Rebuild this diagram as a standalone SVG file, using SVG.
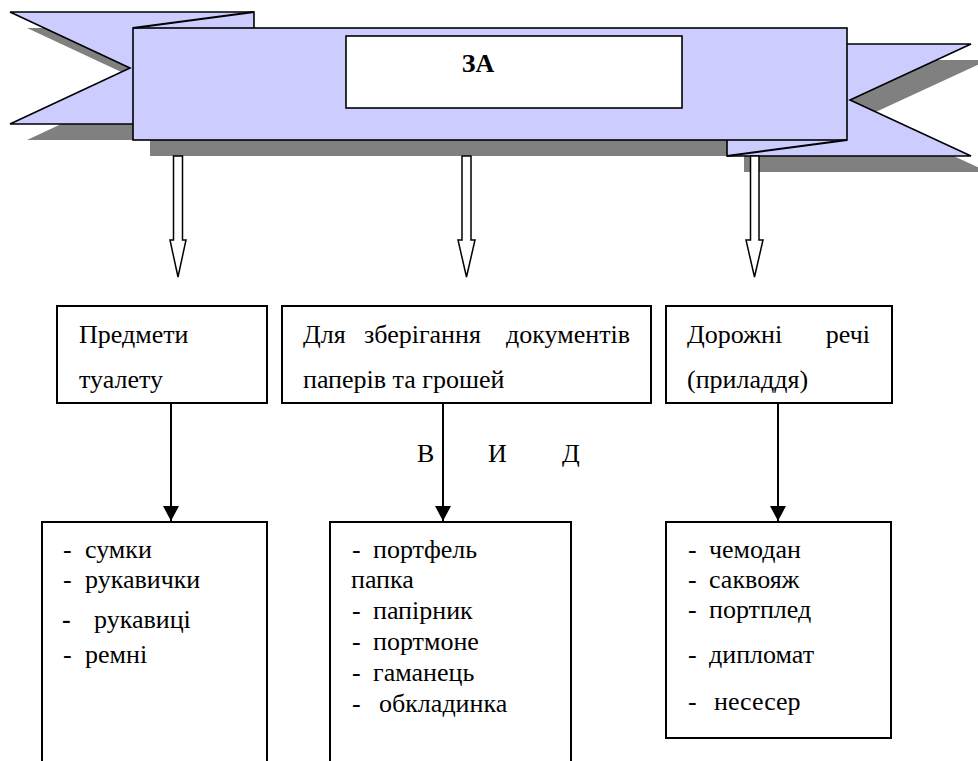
<svg xmlns="http://www.w3.org/2000/svg" width="978" height="761" viewBox="0 0 978 761" font-family="Liberation Serif, DejaVu Serif, serif" font-size="26">
<defs>
<style>
.box{fill:#fff;stroke:#000;stroke-width:2}
.sh{fill:#808080;stroke:none}
.rib{fill:#ccccff;stroke:#000;stroke-width:1.6;stroke-linejoin:miter}
.blk{fill:#fff;stroke:#000;stroke-width:1.5}
.ln{stroke:#000;stroke-width:2;fill:none}
</style>
<marker id="ah" markerUnits="userSpaceOnUse" markerWidth="16" markerHeight="16" refX="15" refY="8" orient="auto">
<path d="M0,0 L15,8 L0,16 Z" fill="#000"/>
</marker>
</defs>
<rect width="978" height="761" fill="#fff"/>
<g id="banner">
<polygon class="sh" points="27,28 271,28 271,140 27,140 147,84"/>
<rect class="sh" x="150" y="44" width="714" height="112"/>
<polygon class="sh" points="744,60 988,60 867,116 988,172 744,172"/>
<polygon class="rib" points="10,12 254,12 254,124 10,124 130,68"/>
<polygon class="rib" points="727,44 971,44 850,100 971,156 727,156"/>
<rect class="rib" x="133" y="28" width="714" height="112"/>
<line class="ln" x1="254" y1="12" x2="133" y2="28" stroke-width="1.6"/>
<line class="ln" x1="727" y1="156" x2="847" y2="140" stroke-width="1.6"/>
<rect x="346" y="36" width="336" height="72" fill="#fff" stroke="#000" stroke-width="1.6"/>
<text x="478" y="72" text-anchor="middle" font-weight="bold">ЗА</text>
</g>
<g id="block-arrows">
<polygon class="blk" points="173.5,156 182.5,156 182.5,240 186,240 178,277 170,240 173.5,240"/>
<polygon class="blk" points="462,156 471,156 471,240 475,240 466.5,277 458,240 462,240"/>
<polygon class="blk" points="750.5,156 759,156 759,240 763,240 754.5,277 746,240 750.5,240"/>
</g>
<g id="box-toilet">
<rect class="box" x="57" y="306" width="210" height="97"/>
<text x="79" y="343">Предмети</text>
<text x="79" y="388">туалету</text>
</g>
<g id="box-documents">
<rect class="box" x="282" y="306" width="369" height="97"/>
<text x="303" y="343">Для</text>
<text x="364" y="343">зберігання</text>
<text x="630" y="343" text-anchor="end">документів</text>
<text x="303" y="388">паперів та грошей</text>
</g>
<g id="box-travel">
<rect class="box" x="666" y="306" width="226" height="97"/>
<text x="687" y="343">Дорожні</text>
<text x="870" y="343" text-anchor="end">речі</text>
<text x="687" y="388">(приладдя)</text>
</g>
<g id="label-vid">
<text x="417" y="462">В</text>
<text x="488" y="462">И</text>
<text x="562" y="462">Д</text>
</g>
<g id="connectors">
<line class="ln" x1="171" y1="403" x2="171" y2="521" marker-end="url(#ah)"/>
<line class="ln" x1="443" y1="403" x2="443" y2="521" marker-end="url(#ah)"/>
<line class="ln" x1="778" y1="403" x2="778" y2="521" marker-end="url(#ah)"/>
</g>
<g id="list-toilet">
<rect class="box" x="42" y="522" width="225" height="250"/>
<text x="63" y="558">-</text><text x="85" y="558">сумки</text>
<text x="63" y="588">-</text><text x="85" y="588">рукавички</text>
<text x="62" y="628" font-weight="bold">-</text><text x="94" y="628">рукавиці</text>
<text x="63" y="663">-</text><text x="85" y="663">ремні</text>
</g>
<g id="list-documents">
<rect class="box" x="330" y="522" width="241" height="250"/>
<text x="352" y="558">-</text><text x="373" y="558">портфель</text>
<text x="351" y="588">папка</text>
<text x="352" y="619">-</text><text x="373" y="619">папірник</text>
<text x="352" y="650">-</text><text x="373" y="650">портмоне</text>
<text x="352" y="681">-</text><text x="373" y="681">гаманець</text>
<text x="352" y="712">-</text><text x="379" y="712">обкладинка</text>
</g>
<g id="list-travel">
<rect class="box" x="666" y="522" width="225" height="216"/>
<text x="688" y="558">-</text><text x="709" y="558">чемодан</text>
<text x="688" y="588">-</text><text x="709" y="588">саквояж</text>
<text x="688" y="618">-</text><text x="709" y="618">портплед</text>
<text x="688" y="663">-</text><text x="709" y="663">дипломат</text>
<text x="688" y="710">-</text><text x="714" y="710">несесер</text>
</g>
</svg>
